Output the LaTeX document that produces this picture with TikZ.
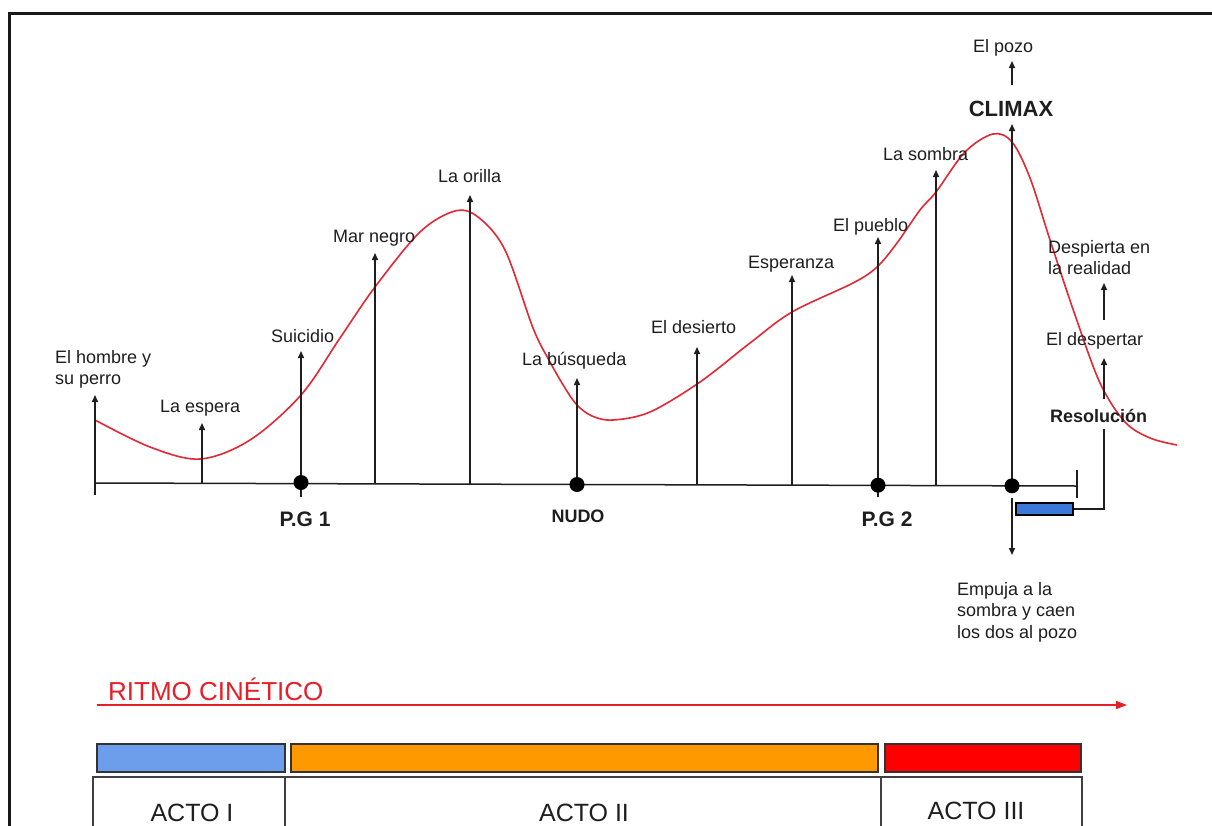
\documentclass[tikz,border=0pt]{standalone}
\usepackage{fontspec}
\setmainfont{Liberation Sans}
\usetikzlibrary{arrows.meta}
\definecolor{curvered}{RGB}{226,40,52}
\definecolor{txt}{RGB}{30,30,30}
\definecolor{barblue}{RGB}{109,158,235}
\definecolor{barorange}{RGB}{255,153,0}
\definecolor{barred}{RGB}{255,0,0}
\definecolor{resblue}{RGB}{60,120,216}
\definecolor{ritmo}{RGB}{230,30,40}
\newcommand{\twolines}[2]{\vtop{\hbox{#1}\hbox{#2}}}
\newcommand{\threelines}[3]{\vtop{\hbox{#1}\hbox{#2}\hbox{#3}}}
\begin{document}
\begin{tikzpicture}[x=1pt,y=-1pt,
  lbl/.style={anchor=base west, inner sep=0pt, text=txt, font=\fontsize{18}{21.5}\selectfont},
  bold/.style={anchor=base, inner sep=0pt, text=txt, font=\bfseries\fontsize{#1}{#1}\selectfont},
  uparrow/.style={-{Triangle[length=7pt,width=6pt]}, line width=1.5pt, draw=txt},
  plainline/.style={line width=1.5pt, draw=txt},
  dot/.style={circle, fill=black, minimum size=15pt, inner sep=0pt},
  bar/.style={draw=black!80, line width=1.4pt},
  act/.style={anchor=base, inner sep=0pt, text=txt, font=\fontsize{25}{25}\selectfont}]
\useasboundingbox (0,0) rectangle (1212,825);
% frame
\draw[line width=3pt, black!90] (9.5,840) -- (9.5,13.5) -- (1230,13.5);

% timeline
\coordinate (tl0) at (95,483);
\coordinate (tl1) at (1077,486);
\draw[plainline] (tl0) -- (tl1);
\coordinate (endtickA) at (1077,470);
\coordinate (endtickB) at (1077,498);
\draw[plainline] (endtickA) -- (endtickB);

% red curve
\draw[curvered, line width=1.6pt] plot[smooth, tension=0.55] coordinates {
 (95,420) (150,447) (200,459) (250,440) (301,395) (340,338) (375,287) (420,232) (455,211) (478,217)
 (505,250) (533,328) (550,362) (565,388) (577,405) (592,416) (613,420) (650,412) (700,382) (750,343) (792,312) (853,283)
 (877,267) (897,243) (920,210) (936,192) (965,152) (993,134) (1012,142) (1030,178) (1050,240)
 (1075,315) (1100,383) (1125,422) (1150,438) (1177,445)};

% bases of arrows
\coordinate (b1) at (95,495);
\coordinate (t1) at (95,395);
\coordinate (b2) at (202,483.3);
\coordinate (t2) at (202,423);
\coordinate (b3) at (301,497);
\coordinate (t3) at (301,351);
\coordinate (b4) at (375,483.9);
\coordinate (t4) at (375,253);
\coordinate (b5) at (470,484.1);
\coordinate (t5) at (470,195);
\coordinate (b6) at (577,484.5);
\coordinate (t6) at (577,378);
\coordinate (b7) at (697,484.8);
\coordinate (t7) at (697,347);
\coordinate (b8) at (792,485.1);
\coordinate (t8) at (792,275);
\coordinate (b9) at (878,497);
\coordinate (t9) at (878,237);
\coordinate (b10) at (936,485.5);
\coordinate (t10) at (936,170);
\coordinate (b11) at (1012,485.8);
\coordinate (t11) at (1012,124);

\foreach \i in {1,...,11} {\draw[uparrow] (b\i) -- (t\i);}

% dots
\node[dot] (pg1) at (301,482.5) {};
\node[dot] (nudo) at (577,484.5) {};
\node[dot] (pg2) at (878,485.2) {};
\node[dot] (clim) at (1012,485.8) {};

% climax extras
\coordinate (pozoA) at (1012,85);
\coordinate (pozoB) at (1012,61);
\draw[uparrow] (pozoA) -- (pozoB);
\coordinate (downA) at (1012,498);
\coordinate (downB) at (1012,555);
\draw[uparrow] (downA) -- (downB);

% resolution
\node[draw=black, line width=1.2pt, fill=resblue, minimum width=57pt, minimum height=12pt, inner sep=0pt] (resbox) at (1044.5,509) {};
\coordinate (rescorner) at (1104,509);
\coordinate (restop) at (1104,429);
\draw[plainline] (resbox.east) -- (rescorner) -- (restop);
\coordinate (despA) at (1104,399);
\coordinate (despB) at (1104,358);
\draw[uparrow] (despA) -- (despB);
\coordinate (realA) at (1104,320);
\coordinate (realB) at (1104,283);
\draw[uparrow] (realA) -- (realB);

% labels
\node[lbl] (l1) at (55,363) {\twolines{El hombre y}{su perro}};
\node[lbl] (l2) at (160,412) {La espera};
\node[lbl] (l3) at (271,342) {Suicidio};
\node[lbl] (l4) at (333,242) {Mar negro};
\node[lbl] (l5) at (438,182) {La orilla};
\node[lbl] (l6) at (522,365) {La búsqueda};
\node[lbl] (l7) at (651,333) {El desierto};
\node[lbl] (l8) at (748,268) {Esperanza};
\node[lbl] (l9) at (833,231) {El pueblo};
\node[lbl] (l10) at (883,160) {La sombra};
\node[bold=22] (climax) at (1011,116) {CLIMAX};
\node[lbl] (pozo) at (973,52) {El pozo};
\node[lbl] (realidad) at (1048,253) {\twolines{Despierta en}{la realidad}};
\node[lbl] (despertar) at (1046,345) {El despertar};
\node[bold=18, anchor=base west] (resol) at (1050,422) {Resolución};
\node[lbl] (empuja) at (957,595) {\threelines{Empuja a la}{sombra y caen}{los dos al pozo}};
\node[bold=21] (pg1l) at (305,526) {P.G 1};
\node[bold=18] (nudol) at (578,522) {NUDO};
\node[bold=21] (pg2l) at (887,526) {P.G 2};

% ritmo
\node[anchor=base west, inner sep=0pt, text=ritmo, font=\fontsize{26}{26}\selectfont] (ritmo) at (108,700) {RITMO CINÉTICO};
\coordinate (rA) at (97,705);
\coordinate (rB) at (1127,705);
\draw[ritmo, line width=1.3pt, -{Triangle[length=11pt,width=8pt]}] (rA) -- (rB);

% bars
\draw[bar, fill=barblue] (97,744) rectangle (285,772);
\draw[bar, fill=barorange] (291,744) rectangle (878,772);
\draw[bar, fill=barred] (885,744) rectangle (1081,772);

% act boxes
\draw[line width=1.5pt, black!75] (93,830) -- (93,777) -- (1082,777) -- (1082,830);
\draw[line width=1.5pt, black!75] (285,777) -- (285,830);
\draw[line width=1.5pt, black!75] (881,777) -- (881,830);
\node[act] (a1) at (192,821) {ACTO I};
\node[act] (a2) at (584,821) {ACTO II};
\node[act] (a3) at (976,819) {ACTO III};
\end{tikzpicture}
\end{document}
